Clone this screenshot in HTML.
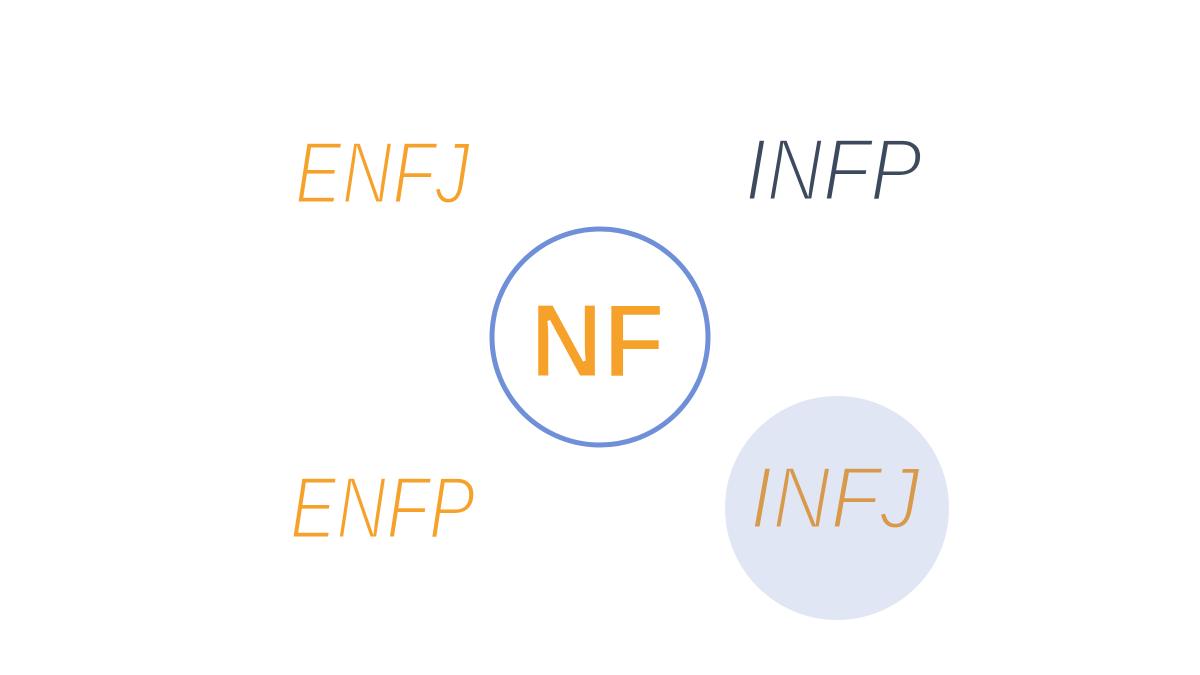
<!DOCTYPE html>
<html><head><meta charset="utf-8"><style>
html,body{margin:0;padding:0;background:#fff;}
svg{display:block;}
</style></head><body>
<svg width="1200" height="675" viewBox="0 0 1200 675" xmlns="http://www.w3.org/2000/svg">
<rect width="1200" height="675" fill="#ffffff"/>
<circle cx="837" cy="508" r="112" fill="#E1E6F5"/>
<circle cx="600" cy="337" r="108" fill="#ffffff" stroke="#6F8FD8" stroke-width="5"/>
<text x="530" y="377" font-family="Liberation Sans, sans-serif" font-weight="bold" font-size="106" fill="#F5A12A" stroke="#ffffff" stroke-width="3" textLength="135" lengthAdjust="spacingAndGlyphs">NF</text>
<g font-family="Liberation Sans, sans-serif" font-style="italic" font-size="88" stroke-width="3">
<text x="295" y="203" fill="#F5A12A" stroke="#ffffff" textLength="175" lengthAdjust="spacingAndGlyphs">ENFJ</text>
<text x="745" y="200" fill="#3D4A5E" stroke="#ffffff" textLength="177" lengthAdjust="spacingAndGlyphs">INFP</text>
<text x="290" y="538" fill="#F5A12A" stroke="#ffffff" textLength="185" lengthAdjust="spacingAndGlyphs">ENFP</text>
<text x="750" y="528" fill="#D89A4A" stroke="#E1E6F5" textLength="170" lengthAdjust="spacingAndGlyphs">INFJ</text>
</g>
</svg>
</body></html>
